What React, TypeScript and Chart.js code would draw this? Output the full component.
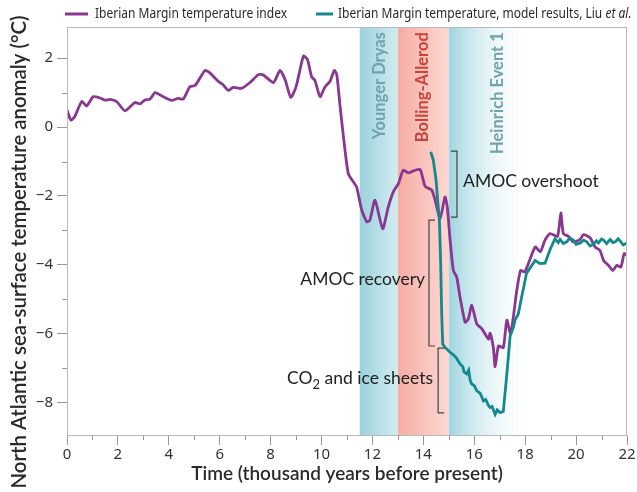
import React, { useEffect, useRef } from 'react';
import { Chart, registerables } from 'chart.js';

Chart.register(...registerables);

// ---------------- data ----------------
const purpleTime = [
  0.0, 0.15, 0.3, 0.58, 0.77, 1.03, 1.23, 1.49, 1.69, 1.95, 2.28, 2.67, 2.87, 3.06, 3.26, 3.46, 3.78, 4.11, 4.37, 4.57,
  4.83, 5.03, 5.42, 5.58, 5.95, 6.14, 6.34, 6.53, 6.86, 7.19, 7.52, 7.71, 8.11, 8.37, 8.57, 8.79, 9.0, 9.29, 9.45, 9.61,
  9.74, 9.94, 10.14, 10.33, 10.5, 10.6, 10.73, 10.86, 11.05, 11.25, 11.38, 11.58, 11.78, 11.9, 12.1, 12.4, 12.62, 12.82,
  13.02, 13.21, 13.41, 13.61, 13.87, 14.07, 14.33, 14.46, 14.66, 14.85, 14.94, 15.05, 15.18, 15.31, 15.44, 15.64, 15.77,
  15.9, 16.1, 16.3, 16.56, 16.62, 16.75, 16.82, 16.95, 17.14, 17.28, 17.43, 17.67, 17.82, 17.99, 18.39, 18.59, 18.78,
  18.98, 19.27, 19.4, 19.5, 19.7, 19.89, 20.16, 20.29, 20.55, 20.75, 20.94, 21.08, 21.27, 21.44, 21.6, 21.76, 21.89, 22.0,
];
const purpleTemp = [
  0.5, 0.2, 0.3, 0.74, 0.61, 0.88, 0.86, 0.78, 0.8, 0.74, 0.47, 0.71, 0.67, 0.78, 0.81, 1.0, 0.88, 0.77, 0.83, 0.81,
  1.17, 1.2, 1.64, 1.59, 1.32, 1.22, 1.06, 1.15, 1.12, 1.29, 1.52, 1.51, 1.29, 1.64, 1.37, 0.86, 1.17, 2.06, 1.95, 1.46,
  1.35, 0.88, 1.17, 1.32, 1.64, 1.51, 0.59, -0.28, -1.35, -1.59, -1.74, -2.41, -2.75, -2.7, -2.12, -2.95, -2.32, -1.88,
  -1.64, -1.25, -1.33, -1.27, -1.23, -1.72, -1.83, -2.12, -2.65, -2.03, -2.32, -3.28, -4.16, -4.35, -4.93, -5.66, -5.56,
  -5.17, -5.71, -5.85, -6.15, -5.98, -6.4, -6.95, -6.35, -6.4, -5.6, -6.0, -4.74, -4.16, -4.2, -3.48, -3.62, -3.28,
  -3.09, -3.17, -2.49, -3.09, -3.17, -3.33, -3.26, -3.12, -3.21, -3.48, -3.58, -3.87, -4.01, -4.16, -4.01, -4.06, -3.67, -3.72,
];
const tealTime = [
  14.29, 14.39, 14.5, 14.56, 14.63, 14.68, 14.72, 14.76, 14.85, 15.05, 15.2, 15.3, 15.44, 15.55, 15.6, 15.7, 15.78, 15.84,
  15.9, 16.0, 16.1, 16.23, 16.36, 16.45, 16.56, 16.62, 16.7, 16.82, 16.9, 17.01, 17.14, 17.28, 17.41, 17.54, 17.6, 17.73,
  17.86, 17.93, 18.05, 18.13, 18.39, 18.59, 18.78, 18.98, 19.17, 19.3, 19.37, 19.5, 19.63, 19.75, 19.89, 20.0, 20.16, 20.3,
  20.42, 20.55, 20.68, 20.8, 20.88, 21.0, 21.08, 21.2, 21.34, 21.45, 21.54, 21.65, 21.73, 21.85, 22.0,
];
const tealTemp = [
  -0.72, -0.96, -1.54, -2.12, -2.7, -3.96, -5.42, -6.29, -6.39, -6.53, -6.62, -6.7, -6.87, -6.95, -7.1, -7.16, -7.05, -7.35,
  -7.45, -7.5, -7.65, -7.72, -7.94, -7.9, -8.08, -8.13, -8.1, -8.33, -8.2, -8.28, -8.25, -7.16, -6.05, -5.8, -5.6, -5.42,
  -4.93, -4.69, -4.25, -4.16, -3.87, -3.96, -3.95, -3.55, -3.24, -3.35, -3.26, -3.38, -3.33, -3.22, -3.28, -3.4, -3.36, -3.28,
  -3.33, -3.45, -3.4, -3.3, -3.36, -3.25, -3.28, -3.38, -3.26, -3.35, -3.33, -3.24, -3.3, -3.42, -3.36,
];
const seriesLabels = ['Iberian Margin temperature index', 'Iberian Margin temperature, model results, Liu '];
const xTickValues = [0, 2, 4, 6, 8, 10, 12, 14, 16, 18, 20, 22];
const xTickLabels = ['0', '2', '4', '6', '8', '10', '12', '14', '16', '18', '20', '22'];
const yTickValues = [-8, -6, -4, -2, 0, 2];
const yTickLabels = ['\u22128', '\u22126', '\u22124', '\u22122', '0', '2'];
const bandLabels = ['Younger Dryas', 'Bolling-Allerod', 'Heinrich Event 1'];
const bandStarts = [11.5, 13.0, 15.0];
const bandEnds = [13.0, 15.0, 18.3];

// ---------------- styles / layout ----------------
const PURPLE = '#893790';
const TEAL = '#13898d';
const bandStyles = [
  { from: '#9bd2dd', to: '#d2ecf0', text: '#72a2ac', labelX: 12.27 },
  { from: '#f5ada5', to: '#fcd8d2', text: '#c8443b', labelX: 13.99 },
  { from: '#a0d5df', to: 'rgba(255,255,255,0)', text: '#72a2ac', labelX: 16.9 },
];
const bandLabelTop = 2.75;
const brackets = [
  { x: 15.32, y0: -0.7, y1: -2.61, dir: -1 },
  { x: 14.22, y0: -2.7, y1: -6.35, dir: 1 },
  { x: 14.58, y0: -6.41, y1: -8.29, dir: 1 },
];
const FAMILY = 'Lato, "Noto Sans", sans-serif';
const NOTE_FONT = `17.5px ${FAMILY}`;
const LEGEND_FONT = '15px "Noto Sans", sans-serif';
const LEGEND_SQUEEZE = 0.8;

const decorPlugin = {
  id: 'decor',
  beforeDatasetsDraw(chart: any) {
    const { ctx, chartArea: a, scales } = chart;
    const x = scales.x, y = scales.y;
    ctx.save();
    bandStarts.forEach((s, i) => {
      const x0 = x.getPixelForValue(s);
      const x1 = x.getPixelForValue(bandEnds[i]);
      const g = ctx.createLinearGradient(x0, 0, x1, 0);
      g.addColorStop(0, bandStyles[i].from);
      g.addColorStop(1, bandStyles[i].to);
      ctx.fillStyle = g;
      ctx.fillRect(x0, a.top, x1 - x0, a.bottom - a.top);
    });
    bandLabels.forEach((t, i) => {
      ctx.save();
      ctx.translate(x.getPixelForValue(bandStyles[i].labelX), y.getPixelForValue(bandLabelTop));
      ctx.rotate(-Math.PI / 2);
      ctx.textAlign = 'right';
      ctx.textBaseline = 'middle';
      ctx.font = `bold 16.5px ${FAMILY}`;
      ctx.fillStyle = bandStyles[i].text;
      ctx.fillText(t, 0, 0);
      ctx.restore();
    });
    ctx.restore();
  },
  afterDraw(chart: any) {
    const { ctx, chartArea: a, scales } = chart;
    const x = scales.x, y = scales.y;
    ctx.save();
    // frame
    ctx.strokeStyle = '#b9b9b9';
    ctx.lineWidth = 1;
    ctx.strokeRect(a.left + 0.5, a.top + 0.5, a.right - a.left - 1, a.bottom - a.top);
    // minor ticks
    ctx.strokeStyle = '#999';
    ctx.beginPath();
    for (let v = 1; v < 22; v += 2) {
      const px = Math.round(x.getPixelForValue(v)) + 0.5;
      ctx.moveTo(px, a.bottom);
      ctx.lineTo(px, a.bottom + 5);
    }
    for (let v = -7; v < 2.9; v += 2) {
      const py = Math.round(y.getPixelForValue(v)) + 0.5;
      ctx.moveTo(a.left - 5, py);
      ctx.lineTo(a.left, py);
    }
    ctx.stroke();
    // brackets
    ctx.strokeStyle = '#444';
    ctx.lineWidth = 1.2;
    brackets.forEach((b) => {
      const px = x.getPixelForValue(b.x);
      const p0 = y.getPixelForValue(b.y0);
      const p1 = y.getPixelForValue(b.y1);
      ctx.beginPath();
      ctx.moveTo(px + b.dir * 6, p0);
      ctx.lineTo(px, p0);
      ctx.lineTo(px, p1);
      ctx.lineTo(px + b.dir * 6, p1);
      ctx.stroke();
    });
    // annotation texts
    ctx.fillStyle = '#222';
    ctx.font = NOTE_FONT;
    ctx.textBaseline = 'middle';
    ctx.textAlign = 'left';
    ctx.fillText('AMOC overshoot', x.getPixelForValue(15.56), y.getPixelForValue(-1.57));
    ctx.textAlign = 'right';
    ctx.fillText('AMOC recovery', x.getPixelForValue(14.07), y.getPixelForValue(-4.43));
    {
      const rx = x.getPixelForValue(14.38);
      const cy = y.getPixelForValue(-7.3);
      const rest = ' and ice sheets';
      const SUB = `13px ${FAMILY}`;
      ctx.textAlign = 'left';
      ctx.font = NOTE_FONT;
      const wRest = ctx.measureText(rest).width;
      const wCO = ctx.measureText('CO').width;
      ctx.font = SUB;
      const wSub = ctx.measureText('2').width;
      const start = rx - wRest - wSub - wCO;
      ctx.font = NOTE_FONT;
      ctx.fillText('CO', start, cy);
      ctx.fillText(rest, start + wCO + wSub, cy);
      ctx.font = SUB;
      ctx.fillText('2', start + wCO, cy + 6);
    }
    // y title
    ctx.save();
    ctx.translate(19, 252);
    ctx.rotate(-Math.PI / 2);
    ctx.textAlign = 'center';
    ctx.textBaseline = 'middle';
    ctx.font = `600 20.4px ${FAMILY}`;
    ctx.fillStyle = '#2a2a2a';
    ctx.fillText('North Atlantic sea-surface temperature anomaly (\u00B0C)', 0, 0);
    ctx.restore();
    // legend
    const ds = chart.data.datasets;
    const legendY = 14;
    const items = [
      { lx0: 65, lx1: 88, tx: 95 },
      { lx0: 316, lx1: 333, tx: 338 },
    ];
    items.forEach((it, i) => {
      ctx.strokeStyle = ds[i].borderColor;
      ctx.lineWidth = 3;
      ctx.beginPath();
      ctx.moveTo(it.lx0, legendY);
      ctx.lineTo(it.lx1, legendY);
      ctx.stroke();
      ctx.save();
      ctx.translate(it.tx, legendY);
      ctx.scale(LEGEND_SQUEEZE, 1);
      ctx.fillStyle = '#2a2a2a';
      ctx.font = LEGEND_FONT;
      ctx.textAlign = 'left';
      ctx.textBaseline = 'middle';
      ctx.fillText(ds[i].label, 0, 0);
      if (i === 1) {
        const w = ctx.measureText(ds[i].label).width;
        ctx.font = 'italic ' + LEGEND_FONT;
        ctx.fillText('et al.', w, 0);
      }
      ctx.restore();
    });
    ctx.restore();
  },
};

export default function App() {
  const ref = useRef<HTMLCanvasElement | null>(null);
  useEffect(() => {
    if (!ref.current) return;
    const tickFont = { family: '"Noto Sans", sans-serif', size: 15 };
    const chart = new Chart(ref.current, {
      type: 'line',
      data: {
        datasets: [
          {
            label: seriesLabels[0],
            data: purpleTime.map((t, i) => ({ x: t, y: purpleTemp[i] })),
            borderColor: PURPLE,
            borderWidth: 2.8,
            pointRadius: 0,
            tension: 0.2,
            order: 1,
          },
          {
            label: seriesLabels[1],
            data: tealTime.map((t, i) => ({ x: t, y: tealTemp[i] })),
            borderColor: TEAL,
            borderWidth: 2.8,
            pointRadius: 0,
            tension: 0,
            order: 0,
          },
        ],
      },
      options: {
        responsive: false,
        animation: false,
        layout: { padding: { top: 27, right: 10, left: 0, bottom: 0 } },
        plugins: { legend: { display: false }, tooltip: { enabled: false } },
        scales: {
          x: {
            type: 'linear',
            min: 0,
            max: 22,
            afterBuildTicks: (s: any) => { s.ticks = xTickValues.map((v) => ({ value: v })); },
            afterFit: (s: any) => { s.height = 57; },
            grid: { drawOnChartArea: false, drawTicks: true, tickLength: 10, tickColor: '#999' },
            border: { color: '#aaa' },
            ticks: {
              autoSkip: false,
              maxRotation: 0,
              padding: 1,
              color: '#333',
              font: tickFont,
              callback: (v: any) => xTickLabels[xTickValues.indexOf(v)] ?? '',
            },
            title: {
              display: true,
              text: 'Time (thousand years before present)',
              color: '#2a2a2a',
              font: { family: FAMILY, size: 19, weight: '600' },
              padding: { top: 0, bottom: 7 },
            },
          },
          y: {
            type: 'linear',
            min: -8.93,
            max: 2.9,
            afterBuildTicks: (s: any) => { s.ticks = yTickValues.map((v) => ({ value: v })); },
            afterFit: (s: any) => { s.width = 67; },
            grid: { drawOnChartArea: false, drawTicks: true, tickLength: 10, tickColor: '#999' },
            border: { color: '#aaa' },
            ticks: {
              padding: 4,
              color: '#333',
              font: tickFont,
              callback: (v: any) => yTickLabels[yTickValues.indexOf(v)] ?? '',
            },
          },
        },
      },
      plugins: [decorPlugin],
    } as any);
    return () => chart.destroy();
  }, []);
  return (
    <div style={{ position: 'absolute', left: 0, top: 0, width: 637, height: 492, background: '#fff' }}>
      <canvas ref={ref} width={637} height={492} style={{ display: 'block' }} />
    </div>
  );
}
